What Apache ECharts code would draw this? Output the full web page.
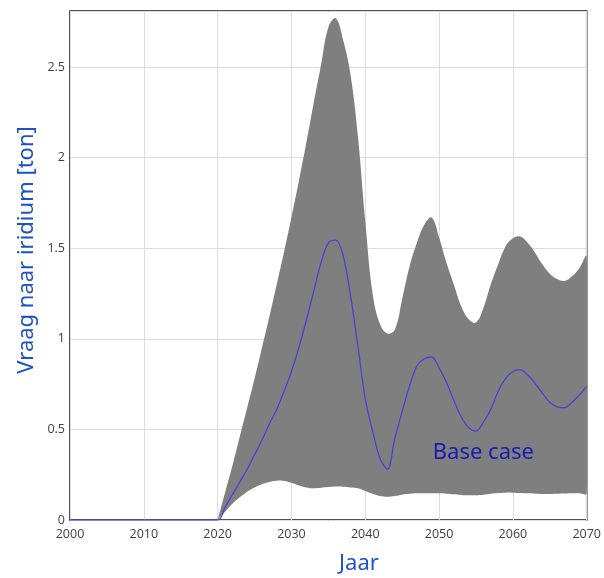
<!DOCTYPE html>
<html>
<head>
<meta charset="utf-8">
<script src="https://cdn.jsdelivr.net/npm/echarts@6/dist/echarts.min.js"></script>
<style>
  html, body { margin: 0; padding: 0; background: #fff; }
  #graph { width: 604px; height: 578px; }
</style>
</head>
<body>
<div id="graph"></div>
<script>
// years of the band and base case lines (value axis)
var years = [2000, 2020, 2021, 2022, 2023, 2024, 2025, 2026, 2027, 2028, 2029,
             2030, 2031, 2032, 2033, 2034, 2035, 2036, 2037, 2038, 2039,
             2040, 2041, 2042, 2043, 2044, 2045, 2046, 2047, 2048, 2049,
             2050, 2051, 2052, 2053, 2054, 2055, 2056, 2057, 2058, 2059,
             2060, 2061, 2062, 2063, 2064, 2065, 2066, 2067, 2068, 2069, 2070];

// upper edge of the grey band
var upper = [0, 0, 0.15, 0.30, 0.46, 0.62, 0.78, 0.95, 1.12, 1.30, 1.48,
             1.67, 1.87, 2.08, 2.30, 2.51, 2.72, 2.77, 2.65, 2.46, 2.12,
             1.65, 1.25, 1.08, 1.03, 1.05, 1.22, 1.40, 1.53, 1.63, 1.67,
             1.56, 1.42, 1.30, 1.18, 1.11, 1.09, 1.17, 1.30, 1.41, 1.51,
             1.555, 1.565, 1.53, 1.475, 1.41, 1.36, 1.33, 1.32, 1.345, 1.39, 1.455];

// lower edge of the grey band
var lower = [0, 0, 0.045, 0.09, 0.125, 0.156, 0.18, 0.198, 0.21, 0.217, 0.215,
             0.205, 0.19, 0.18, 0.175, 0.178, 0.182, 0.185, 0.184, 0.18, 0.175,
             0.16, 0.145, 0.132, 0.128, 0.132, 0.14, 0.145, 0.147, 0.148, 0.148,
             0.147, 0.145, 0.142, 0.138, 0.136, 0.137, 0.14, 0.145, 0.149, 0.151,
             0.151, 0.149, 0.147, 0.145, 0.144, 0.144, 0.145, 0.146, 0.147, 0.147, 0.147];

// base case line
var baseCase = [0, 0, 0.07, 0.14, 0.21, 0.28, 0.36, 0.44, 0.53, 0.61, 0.71,
                0.82, 0.95, 1.10, 1.26, 1.42, 1.53, 1.545, 1.46, 1.24, 0.96,
                0.67, 0.49, 0.34, 0.28, 0.45, 0.60, 0.74, 0.85, 0.89, 0.90,
                0.84, 0.76, 0.66, 0.57, 0.51, 0.49, 0.54, 0.61, 0.71, 0.78,
                0.82, 0.83, 0.80, 0.755, 0.70, 0.65, 0.625, 0.62, 0.65, 0.69, 0.736];

var xTicks = [2000, 2010, 2020, 2030, 2040, 2050, 2060, 2070];
var yTicks = [0, 0.5, 1, 1.5, 2, 2.5];

var baseData = [];
for (var i = 0; i < years.length; i++) {
    baseData.push([years[i], baseCase[i]]);
}

// the band starts where the curves leave zero (2020)
var bandStart = years.indexOf(2020);

// draw the grey band as one polygon: upper edge forward, lower edge back
function renderBand(params, api) {
    var pts = [];
    for (var i = bandStart; i < years.length; i++) {
        pts.push(api.coord([years[i], upper[i]]));
    }
    for (var j = years.length - 1; j >= bandStart; j--) {
        pts.push(api.coord([years[j], lower[j]]));
    }
    return {
        type: 'polygon',
        shape: { points: pts, smooth: 0.4 },
        style: { fill: '#7f7f7f' }
    };
}

var chart = echarts.init(document.getElementById('graph'));

var option = {
    animation: false,
    grid: {
        left: 70, right: 13, top: 11, bottom: 58,
        show: true,
        borderColor: '#1a1a1a',
        borderWidth: 1.5,
        backgroundColor: '#fff'
    },
    xAxis: {
        type: 'value',
        min: 2000,
        max: 2070,
        interval: 10,
        axisLine: { show: false },
        axisTick: { show: false },
        axisLabel: {
            color: '#404040',
            fontFamily: 'Open Sans',
            fontSize: 12.5,
            margin: 8,
            formatter: function (v) { return xTicks.indexOf(v) >= 0 ? String(v) : ''; }
        },
        splitLine: { show: true, lineStyle: { color: '#dcdcdc', width: 1 } }
    },
    yAxis: {
        type: 'value',
        min: 0,
        max: 2.81,
        interval: 0.5,
        axisLine: { show: false },
        axisTick: { show: false },
        axisLabel: {
            color: '#404040',
            fontFamily: 'Open Sans',
            fontSize: 12.5,
            margin: 5,
            showMaxLabel: false,
            formatter: function (v) { return yTicks.indexOf(v) >= 0 ? String(v) : ''; }
        },
        splitLine: { show: true, lineStyle: { color: '#dcdcdc', width: 1 } }
    },
    graphic: [{
        type: 'text',
        x: 27,
        y: 250,
        rotation: Math.PI / 2,
        style: {
            text: 'Vraag naar iridium [ton]',
            fill: '#1e50c8',
            font: '22px "Noto Sans"',
            align: 'center',
            verticalAlign: 'middle'
        }
    }, {
        type: 'text',
        x: 359,
        y: 564,
        style: {
            text: 'Jaar',
            fill: '#1e50c8',
            font: '22px "Noto Sans"',
            align: 'center',
            verticalAlign: 'middle'
        }
    }],
    series: [{
        name: 'band',
        type: 'custom',
        renderItem: renderBand,
        data: [0],
        clip: true,
        silent: true,
        z: 1
    }, {
        name: 'Base case',
        type: 'line',
        data: baseData,
        smooth: 0.35,
        symbol: 'none',
        lineStyle: { color: '#4a42d8', width: 1.3 },
        z: 3,
        markPoint: {
            symbol: 'rect',
            symbolSize: 0,
            data: [{ coord: [2056, 0.37] }],
            label: {
                show: true,
                position: 'inside',
                formatter: 'Base case',
                color: '#1a1ab4',
                fontFamily: 'Noto Sans',
                fontSize: 22
            }
        }
    }]
};

chart.setOption(option);
</script>
</body>
</html>
